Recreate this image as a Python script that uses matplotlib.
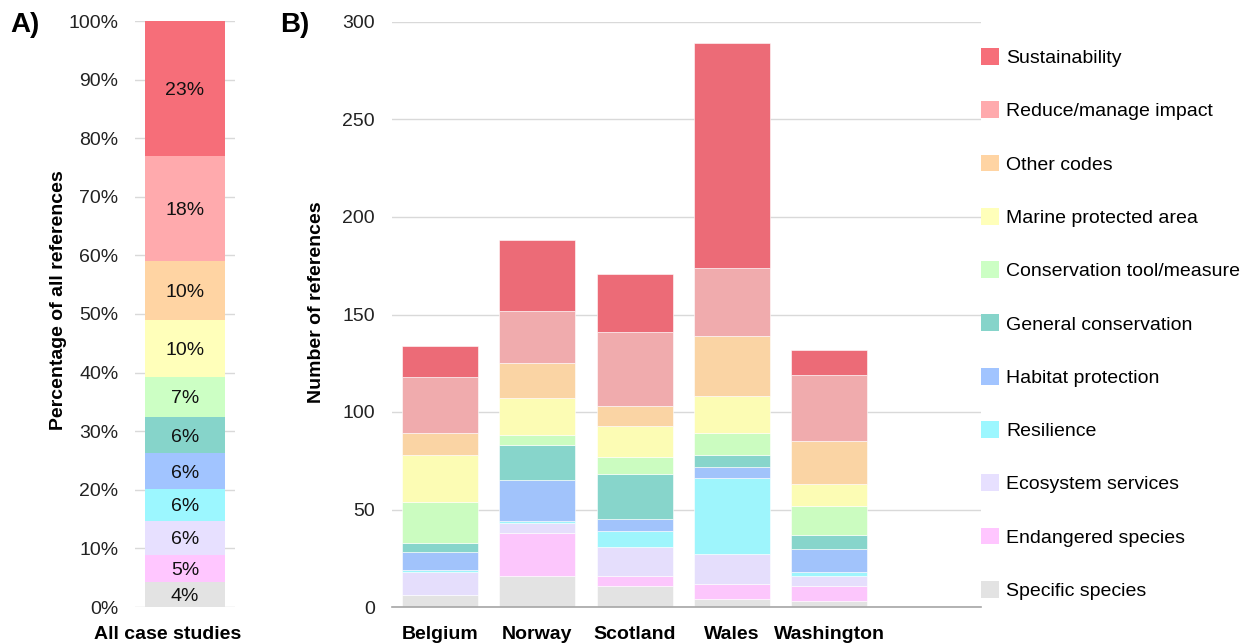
import matplotlib
matplotlib.use("Agg")
import matplotlib.pyplot as plt
import numpy as np
from matplotlib.patches import Patch
from matplotlib.transforms import ScaledTranslation

plt.rcParams['font.family'] = ['Liberation Sans', 'DejaVu Sans']

# ---------------- data ----------------
themes = ["Specific species", "Endangered species", "Ecosystem services", "Resilience",
          "Habitat protection", "General conservation", "Conservation tool/measure",
          "Marine protected area", "Other codes", "Reduce/manage impact", "Sustainability"]

# Panel A: share of all references (%), bottom -> top
pct_all = [4.3, 4.6, 5.8, 5.5, 6.0, 6.3, 6.8, 9.6, 10.1, 17.9, 23.1]
pct_labels = ["4%", "5%", "6%", "6%", "6%", "6%", "7%", "10%", "10%", "18%", "23%"]
case_label = ["All case studies"]

# Panel B: number of references per case study
countries = ["Belgium", "Norway", "Scotland", "Wales", "Washington"]
specific_species     = [6, 16, 11, 4, 3]
endangered_species   = [0, 22, 5, 8, 8]
ecosystem_services   = [12, 5, 15, 15, 5]
resilience           = [1, 1, 8, 39, 2]
habitat_protection   = [9, 21, 6, 6, 12]
general_conservation = [5, 18, 23, 6, 7]
conservation_tool    = [21, 5, 9, 11, 15]
marine_protected     = [24, 19, 16, 19, 11]
other_codes          = [11, 18, 10, 31, 22]
reduce_impact        = [29, 27, 38, 35, 34]
sustainability       = [16, 36, 30, 115, 13]
series_b = [specific_species, endangered_species, ecosystem_services, resilience,
            habitat_protection, general_conservation, conservation_tool,
            marine_protected, other_codes, reduce_impact, sustainability]

colors_a = ["#E3E3E3", "#FFC6FF", "#E7E0FF", "#9CF7FF", "#A1C4FF", "#86D4CA",
            "#CCFFC4", "#FFFFBA", "#FFD4A3", "#FFAAAD", "#F66E79"]
colors_b = ["#E3E3E3", "#FCC6FC", "#E5DEFC", "#9EF5FC", "#A1C3FB", "#87D5CB",
            "#CBFCC0", "#FCFCB4", "#FAD4A4", "#F0ABAD", "#EC6B77"]

W, H = 1248, 644
fig = plt.figure(figsize=(W / 100, H / 100), dpi=100)
fs = 14
grid_c = "#D9D9D9"

def fx(px):
    return px / W

def fy(py):
    return 1 - py / H

# ---------------- Panel A ----------------
axA = fig.add_axes([fx(135), fy(607), fx(100), (607 - 21) / H])
bottom = 0.0
for v, lab, c in zip(pct_all, pct_labels, colors_a):
    axA.bar(0, v, bottom=bottom, width=0.8, color=c, edgecolor='none', zorder=2)
    axA.text(0, bottom + v / 2, lab, ha='center', va='center_baseline', fontsize=fs,
             color='#111111', zorder=3)
    bottom += v
axA.set_xlim(-0.5, 0.5)
axA.set_ylim(0, 100)
axA.set_yticks(np.arange(0, 101, 10))
axA.set_yticklabels([f"{t}%" for t in range(0, 101, 10)], fontsize=fs, color='#222222')
axA.tick_params(axis='y', length=0, pad=12)
axA.yaxis.grid(True, color=grid_c, linewidth=1, zorder=0)
axA.set_axisbelow(True)
for s in axA.spines.values():
    s.set_visible(False)
axA.set_xticks([0])
axA.set_xticklabels(case_label, fontsize=fs, fontweight='bold')
axA.tick_params(axis='x', length=0, pad=13.5)
for lbl in axA.get_xticklabels():
    lbl.set_transform(lbl.get_transform() + ScaledTranslation(-0.17, 0, fig.dpi_scale_trans))
axA.set_ylabel("Percentage of all references", fontsize=fs, fontweight='bold')
axA.yaxis.set_label_coords((67 - 135) / 100, (607 - 300) / 586)

# ---------------- Panel B ----------------
axB = fig.add_axes([fx(391.5), fy(607), fx(981 - 391.5), (607 - 22) / H])
x = np.arange(len(countries))
bottoms = np.zeros(len(countries))
for vals, c in zip(series_b, colors_b):
    vals = np.array(vals, dtype=float)
    axB.bar(x, vals, bottom=bottoms, width=0.78, color=c, edgecolor='white',
            linewidth=0.4, zorder=2)
    bottoms += vals
axB.set_xlim(-0.5, 5.56)
axB.set_ylim(0, 300)
axB.set_yticks(np.arange(0, 301, 50))
axB.set_yticklabels([str(t) for t in range(0, 301, 50)], fontsize=fs, color='#222222')
axB.tick_params(axis='y', length=0, pad=12)
axB.yaxis.grid(True, color=grid_c, linewidth=1, zorder=0)
axB.set_axisbelow(True)
for s in ['top', 'right', 'left']:
    axB.spines[s].set_visible(False)
axB.spines['bottom'].set_color('#A6A6A6')
axB.spines['bottom'].set_linewidth(1.2)
axB.set_xticks(x)
axB.set_xticklabels(countries, fontsize=fs, fontweight='bold')
axB.tick_params(axis='x', length=0, pad=13.5)
axB.set_ylabel("Number of references", fontsize=fs, fontweight='bold')
axB.yaxis.set_label_coords((325 - 391.5) / 589.5, (607 - 302) / 585)

# legend (top -> bottom: Sustainability ... Specific species), colours as panel A
leg_handles = [Patch(facecolor=c, edgecolor='none') for c in colors_a[::-1]]
leg = fig.legend(leg_handles, themes[::-1], loc='upper left',
                 bbox_to_anchor=(fx(981), fy(48)), frameon=False, fontsize=fs,
                 handlelength=0.95, handleheight=0.95, handletextpad=0.35,
                 labelspacing=1.76, borderaxespad=0, borderpad=0)

fig.text(fx(10), fy(12), "A)", fontsize=20, fontweight='bold', va='top', ha='left')
fig.text(fx(280), fy(12), "B)", fontsize=20, fontweight='bold', va='top', ha='left')

fig.savefig("out.png", dpi=100)
